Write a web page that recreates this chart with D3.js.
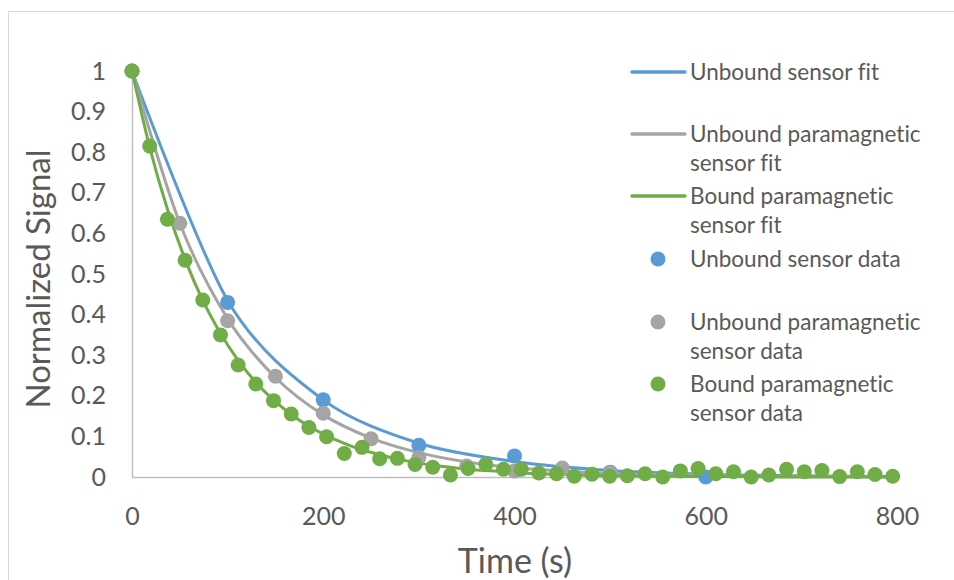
<!DOCTYPE html>
<html>
<head>
<meta charset="utf-8">
<script src="https://cdn.jsdelivr.net/npm/d3@7"></script>
<style>
  body { margin: 0; background: #fff; }
  text { font-family: Lato, "Open Sans", sans-serif; fill: #595959; font-variant-ligatures: none; }
</style>
</head>
<body>
<svg id="chart" width="954" height="580"></svg>
<script>
// ---- data ----
const xTickValues = [0, 200, 400, 600, 800];
const xTickLabels = ["0", "200", "400", "600", "800"];
const yTickValues = [0, 0.1, 0.2, 0.3, 0.4, 0.5, 0.6, 0.7, 0.8, 0.9, 1];
const yTickLabels = ["0", "0.1", "0.2", "0.3", "0.4", "0.5", "0.6", "0.7", "0.8", "0.9", "1"];

// Unbound sensor
const unboundTime = [0, 100, 200, 300, 400, 500, 600];
const unboundData = [1, 0.43, 0.19, 0.078, 0.052, 0.012, 0.0];
const unboundFitTime = [0, 100, 200, 300, 400, 500, 600, 700, 800];
const unboundFit = [1, 0.435, 0.19, 0.083, 0.038, 0.016, 0.007, 0.003, 0.001];

// Unbound paramagnetic sensor
const paraTime = [0, 50, 100, 150, 200, 250, 300, 350, 400, 450, 500];
const paraData = [1, 0.625, 0.385, 0.248, 0.157, 0.094, 0.048, 0.027, 0.015, 0.022, 0.01];
const paraFitTime = [0, 50, 100, 150, 200, 250, 300, 350, 400, 450, 500, 550, 600, 650, 700, 750, 800];
const paraFit = [1, 0.625, 0.39, 0.245, 0.153, 0.096, 0.06, 0.037, 0.023, 0.015, 0.009, 0.006, 0.004, 0.002, 0.001, 0.001, 0.0];

// Bound paramagnetic sensor
const boundTime = [0, 18.5, 37, 55.5, 74, 92.5, 111, 129.5, 148, 166.5, 185, 203.5, 222, 240.5, 259,
  277.5, 296, 314.5, 333, 351.5, 370, 388.5, 407, 425.5, 444, 462.5, 481, 499.5, 518, 536.5, 555,
  573.5, 592, 610.5, 629, 647.5, 666, 684.5, 703, 721.5, 740, 758.5, 777, 795.5];
const boundData = [1, 0.815, 0.635, 0.534, 0.436, 0.35, 0.276, 0.229, 0.188, 0.155, 0.122, 0.099, 0.058,
  0.073, 0.045, 0.046, 0.031, 0.024, 0.005, 0.021, 0.031, 0.019, 0.019, 0.010, 0.008, 0.002, 0.007,
  0.002, 0.003, 0.008, 0.0, 0.015, 0.021, 0.008, 0.013, 0.0, 0.005, 0.019, 0.013, 0.016, 0.001, 0.013,
  0.006, 0.002];
const boundFit = [1, 0.812, 0.66, 0.536, 0.435, 0.354, 0.287, 0.233, 0.19, 0.154, 0.125, 0.102, 0.083,
  0.067, 0.055, 0.044, 0.036, 0.029, 0.024, 0.019, 0.016, 0.013, 0.01, 0.008, 0.007, 0.006, 0.004,
  0.004, 0.003, 0.002, 0.002, 0.002, 0.001, 0.001, 0.001, 0.001, 0.0, 0.0, 0.0, 0.0, 0.0, 0.0, 0.0, 0.0];

const colors = { blue: "#5b9bd5", gray: "#a5a5a5", green: "#70ad47" };

// ---- layout ----
const svg = d3.select("#chart");
const x = d3.scaleLinear().domain([0, 800]).range([132, 897]);
const y = d3.scaleLinear().domain([0, 1]).range([477, 71]);

// outer chart frame
svg.append("rect")
  .attr("x", 8.5).attr("y", 11.5)
  .attr("width", 1000).attr("height", 700)
  .attr("fill", "#fff").attr("stroke", "#d9d9d9").attr("stroke-width", 1);

// axes
const xAxis = svg.append("g").attr("transform", `translate(0,${y(0)})`)
  .call(d3.axisBottom(x).tickValues(xTickValues)
    .tickFormat((d, i) => xTickLabels[i]).tickSize(0).tickPadding(30));
const yAxis = svg.append("g").attr("transform", `translate(${x(0)},0)`)
  .call(d3.axisLeft(y).tickValues(yTickValues)
    .tickFormat((d, i) => yTickLabels[i]).tickSize(0).tickPadding(26));
[xAxis, yAxis].forEach(g => {
  g.select(".domain").attr("stroke", "#bfbfbf").attr("stroke-width", 1.5);
  g.selectAll("text").attr("font-size", 25).attr("fill", "#595959")
    .style("font-family", "Lato, sans-serif");
});

// axis titles
svg.append("text")
  .attr("x", 515).attr("y", 561).attr("dy", "0.35em")
  .attr("text-anchor", "middle").attr("font-size", 34)
  .text("Time (s)");
svg.append("text")
  .attr("transform", "translate(38,279) rotate(-90)")
  .attr("dy", "0.35em")
  .attr("text-anchor", "middle").attr("font-size", 33)
  .text("Normalized Signal");

// fitted curves
const lineGen = d3.line().curve(d3.curveCardinal.tension(0.1));
const fits = [
  { t: unboundFitTime, v: unboundFit, c: colors.blue },
  { t: paraFitTime, v: paraFit, c: colors.gray },
  { t: boundTime, v: boundFit, c: colors.green }
];
fits.forEach(f => {
  svg.append("path")
    .attr("d", lineGen(f.t.map((t, i) => [x(t), y(f.v[i])])))
    .attr("fill", "none").attr("stroke", f.c).attr("stroke-width", 3)
    .attr("stroke-linecap", "round").attr("stroke-linejoin", "round");
});

// measured points
const dataSets = [
  { t: unboundTime, v: unboundData, c: colors.blue },
  { t: paraTime, v: paraData, c: colors.gray },
  { t: boundTime, v: boundData, c: colors.green }
];
dataSets.forEach(s => {
  svg.append("g").selectAll("circle")
    .data(s.t.map((t, i) => [t, s.v[i]]))
    .join("circle")
    .attr("cx", d => x(d[0])).attr("cy", d => y(d[1]))
    .attr("r", 7.5).attr("fill", s.c);
});

// legend
const legendItems = [
  { type: "line", c: colors.blue, y: 72, lines: ["Unbound sensor fit"] },
  { type: "line", c: colors.gray, y: 134, lines: ["Unbound paramagnetic", "sensor fit"] },
  { type: "line", c: colors.green, y: 196, lines: ["Bound paramagnetic", "sensor fit"] },
  { type: "dot", c: colors.blue, y: 259, lines: ["Unbound sensor data"] },
  { type: "dot", c: colors.gray, y: 322, lines: ["Unbound paramagnetic", "sensor data"] },
  { type: "dot", c: colors.green, y: 384, lines: ["Bound paramagnetic", "sensor data"] }
];
const legend = svg.append("g");
legendItems.forEach(it => {
  if (it.type === "line") {
    legend.append("line")
      .attr("x1", 632).attr("x2", 685).attr("y1", it.y).attr("y2", it.y)
      .attr("stroke", it.c).attr("stroke-width", 3.5).attr("stroke-linecap", "round");
  } else {
    legend.append("circle").attr("cx", 658).attr("cy", it.y).attr("r", 7.5).attr("fill", it.c);
  }
  it.lines.forEach((ln, j) => {
    legend.append("text")
      .attr("x", 690).attr("y", it.y + j * 29.5).attr("dy", "0.35em")
      .attr("font-size", 22.5)
      .text(ln);
  });
});
</script>
</body>
</html>
